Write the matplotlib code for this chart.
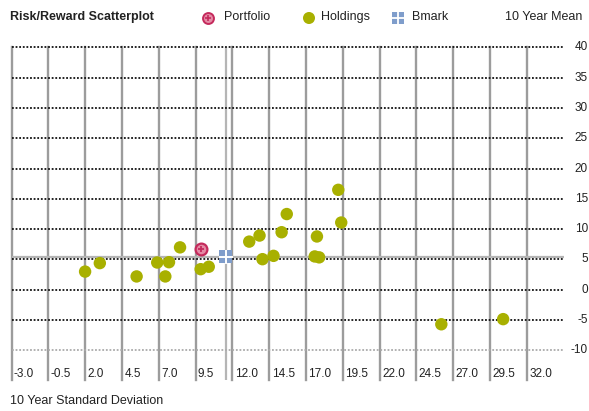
import matplotlib
matplotlib.use("Agg")
import matplotlib.pyplot as plt
from matplotlib.transforms import offset_copy, blended_transform_factory

FONT = ['Liberation Sans Narrow', 'Liberation Sans', 'DejaVu Sans']
plt.rcParams['font.family'] = FONT

# ---- data ----
x_ticks = [-3.0, -0.5, 2.0, 4.5, 7.0, 9.5, 12.0, 14.5, 17.0, 19.5, 22.0, 24.5, 27.0, 29.5, 32.0]
x_tick_labels = ["-3.0", "-0.5", "2.0", "4.5", "7.0", "9.5", "12.0", "14.5", "17.0",
                 "19.5", "22.0", "24.5", "27.0", "29.5", "32.0"]
y_ticks = [40, 35, 30, 25, 20, 15, 10, 5, 0, -5, -10]
y_tick_labels = ["40", "35", "30", "25", "20", "15", "10", "5", "0", "-5", "-10"]

holdings_sd = [2.0, 3.0, 5.5, 6.9, 7.7, 7.45, 8.45, 9.85, 10.4, 13.15, 13.85, 14.05,
               14.8, 15.35, 15.7, 17.75, 17.6, 17.9, 19.2, 19.4, 26.2, 30.4]
holdings_mean = [3.0, 4.4, 2.2, 4.5, 4.55, 2.2, 7.0, 3.4, 3.8, 7.95, 8.95, 5.05,
                 5.6, 9.5, 12.5, 8.8, 5.5, 5.35, 16.5, 11.1, -5.7, -4.85]
portfolio_sd = [9.85]
portfolio_mean = [6.7]
bmark_sd = [11.55]
bmark_mean = [5.45]

title = "Risk/Reward Scatterplot"
legend_labels = ["Portfolio", "Holdings", "Bmark"]
y_title = "10 Year Mean"
x_title = "10 Year Standard Deviation"

# ---- style ----
HOLD_C = '#a8b000'
PORT_EDGE = '#c42a5c'
PORT_FACE = '#e58aa5'
BM_C = '#7f9dcb'
TXT = '#222222'

W, H = 589, 411
fig = plt.figure(figsize=(W / 100, H / 100), dpi=100)

# axes: x -3..34.5 spans px 11.5..563.5 ; y -14.9..40 spans px 380..47.5
ax = fig.add_axes([11.5 / W, (H - 380) / H, 552 / W, (380 - 47.5) / H])
ax.set_xlim(-3, 34.5)
ax.set_ylim(-14.9, 40)
ax.axis('off')

for xv in x_ticks:
    ax.axvline(xv, color='#9c9c9c', lw=1.7, zorder=1, clip_on=False)
for yv in y_ticks:
    col = '#aaaaaa' if yv == min(y_ticks) else '#111111'
    ax.axhline(yv, color=col, lw=1.3, linestyle=(0, (1, 1)), zorder=2, clip_on=False)

# benchmark crosshair
ax.axvline(bmark_sd[0], color='#b5b5b5', lw=1.6, zorder=1.5)
ax.axhline(bmark_mean[0], color='#b5b5b5', lw=1.6, zorder=1.5)

ax.scatter(holdings_sd, holdings_mean, s=80, color=HOLD_C, edgecolors='none', zorder=5)
ax.scatter(portfolio_sd, portfolio_mean, s=72, facecolor=PORT_FACE, edgecolors=PORT_EDGE,
           linewidths=1.6, zorder=6)
ax.scatter(portfolio_sd, portfolio_mean, s=18, marker='+', color=PORT_EDGE, linewidths=1.3, zorder=7)
ax.scatter(bmark_sd, bmark_mean, s=90, marker='s', color=BM_C, edgecolors='none', zorder=6)
ax.scatter(bmark_sd, bmark_mean, s=90, marker='+', color='white', linewidths=1.4, zorder=7)

# x tick labels: left aligned right of each line
tr_x = offset_copy(ax.transData, fig=fig, x=2.5, y=0, units='dots')
for xv, lab in zip(x_ticks, x_tick_labels):
    ax.text(xv, -13.9, lab, transform=tr_x, ha='left', va='center', fontsize=8.5,
            color=TXT, family=FONT)

# y tick labels at right edge
tr_y = blended_transform_factory(fig.transFigure, ax.transData)
for yv, lab in zip(y_ticks, y_tick_labels):
    ax.text(588 / W, yv, lab, transform=tr_y, ha='right', va='center', fontsize=8.5,
            color=TXT, family=FONT, clip_on=False)

# header / legend in pixel space
hdr = fig.add_axes([0, 0, 1, 1], facecolor='none')
hdr.set_xlim(0, W)
hdr.set_ylim(H, 0)
hdr.axis('off')
hdr.text(10, 17, title, ha='left', va='center', fontsize=9, fontweight='bold', color=TXT, family=FONT)
hdr.scatter([208], [18], s=62, facecolor=PORT_FACE, edgecolors=PORT_EDGE, linewidths=1.4)
hdr.scatter([208], [18], s=14, marker='+', color=PORT_EDGE, linewidths=1.2)
hdr.text(224, 17, legend_labels[0], ha='left', va='center', fontsize=9, color=TXT, family=FONT)
hdr.scatter([309], [18], s=75, color=HOLD_C, edgecolors='none')
hdr.text(321, 17, legend_labels[1], ha='left', va='center', fontsize=9, color=TXT, family=FONT)
hdr.scatter([398], [18], s=70, marker='s', color=BM_C, edgecolors='none')
hdr.scatter([398], [18], s=70, marker='+', color='white', linewidths=1.3)
hdr.text(412, 17, legend_labels[2], ha='left', va='center', fontsize=9, color=TXT, family=FONT)
hdr.text(505, 17, y_title, ha='left', va='center', fontsize=9, color=TXT, family=FONT)
hdr.text(10, 401, x_title, ha='left', va='center', fontsize=9, color=TXT, family=FONT)

fig.savefig("out.png", dpi=100)
